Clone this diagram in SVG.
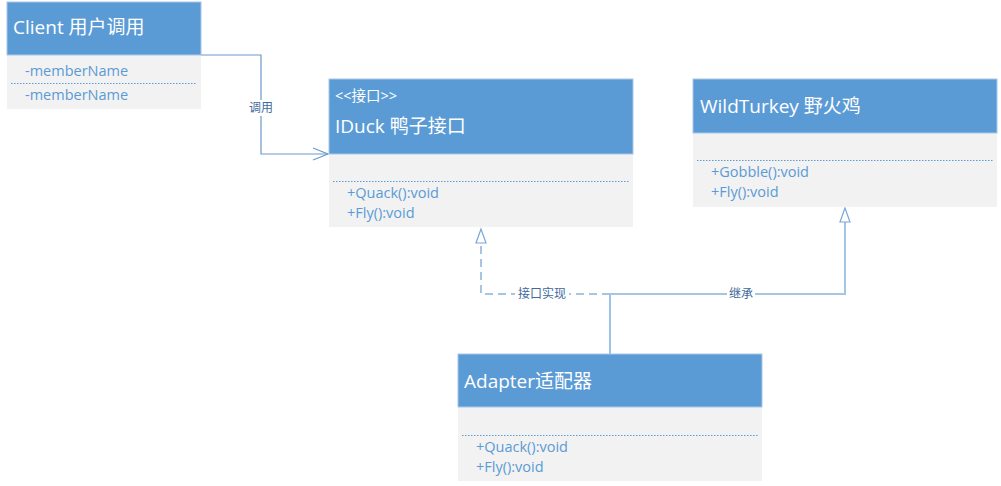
<svg xmlns="http://www.w3.org/2000/svg" width="1001" height="486" viewBox="0 0 1001 486">
<style>
.hd{fill:#5b9bd5;stroke:#a9c8e8;stroke-width:1}
.bd{fill:#f2f2f2}
.t{font-family:"Open Sans","Noto Sans CJK SC",sans-serif;fill:#fff}
.ti{font-size:19px}
.st{font-size:14.5px}
.m{font-family:"Open Sans","Noto Sans CJK SC",sans-serif;font-size:14.5px;fill:#5b9bd5}
.dot{stroke:#5b9bd5;stroke-width:1;stroke-dasharray:1.5 1.5}
.lbl{font-family:"Noto Sans CJK SC",sans-serif;font-size:12px;fill:#3e6b9c;text-anchor:middle}
</style>
<rect width="1001" height="486" fill="#fff"/>
<g id="connectors" fill="none">
<polyline points="201,55 261,55 261,154 328,154" stroke="#6a9acb" stroke-width="1.2"/>
<polyline points="313,148 328,154 313,160" stroke="#6a9acb" stroke-width="1.2"/>
<rect x="246" y="100" width="30" height="16" fill="#fff"/>
<text class="lbl" x="261" y="112">调用</text>
<line x1="610" y1="354" x2="610" y2="294" stroke="#5b9bd5" stroke-width="1.2"/>
<polyline points="610,294 481,294 481,243" stroke="#a6c5e4" stroke-width="2" stroke-dasharray="8 5"/>
<polygon points="481,229 476,243 486,243" fill="#fff" stroke="#7aa8d8" stroke-width="1.2"/>
<polyline points="610,294 845,294 845,222" stroke="#a6c5e4" stroke-width="2"/>
<polygon points="845,208 840,222 850,222" fill="#fff" stroke="#7aa8d8" stroke-width="1.2"/>
<rect x="515" y="286" width="54" height="16" fill="#fff"/>
<text class="lbl" x="542" y="298">接口实现</text>
<rect x="727" y="286" width="28" height="16" fill="#fff"/>
<text class="lbl" x="741" y="298">继承</text>
</g>
<g id="client">
<rect class="bd" x="7" y="55" width="194" height="54"/>
<rect class="hd" x="7" y="2" width="194" height="53"/>
<text class="t ti" x="13" y="34">Client 用户调用</text>
<text class="m" x="25" y="76">-memberName</text>
<line class="dot" x1="11" y1="83.5" x2="196" y2="83.5"/>
<text class="m" x="25" y="100">-memberName</text>
</g>
<g id="iduck">
<rect class="bd" x="329" y="154" width="304" height="73"/>
<rect class="hd" x="329" y="79" width="304" height="75"/>
<text class="t st" x="335" y="101">&lt;&lt;接口&gt;&gt;</text>
<text class="t ti" x="335" y="133">IDuck 鸭子接口</text>
<line class="dot" x1="333" y1="181.5" x2="629" y2="181.5"/>
<text class="m" x="347" y="198">+Quack():void</text>
<text class="m" x="347" y="218">+Fly():void</text>
</g>
<g id="wildturkey">
<rect class="bd" x="693" y="133" width="304" height="74"/>
<rect class="hd" x="693" y="79" width="304" height="54"/>
<text class="t ti" x="700" y="113">WildTurkey 野火鸡</text>
<line class="dot" x1="697" y1="160.5" x2="993" y2="160.5"/>
<text class="m" x="711" y="177">+Gobble():void</text>
<text class="m" x="711" y="197">+Fly():void</text>
</g>
<g id="adapter">
<rect class="bd" x="458" y="407" width="304" height="74"/>
<rect class="hd" x="458" y="354" width="304" height="53"/>
<text class="t ti" x="464" y="388">Adapter适配器</text>
<line class="dot" x1="462" y1="435.5" x2="758" y2="435.5"/>
<text class="m" x="476" y="452">+Quack():void</text>
<text class="m" x="476" y="472">+Fly():void</text>
</g>
</svg>
